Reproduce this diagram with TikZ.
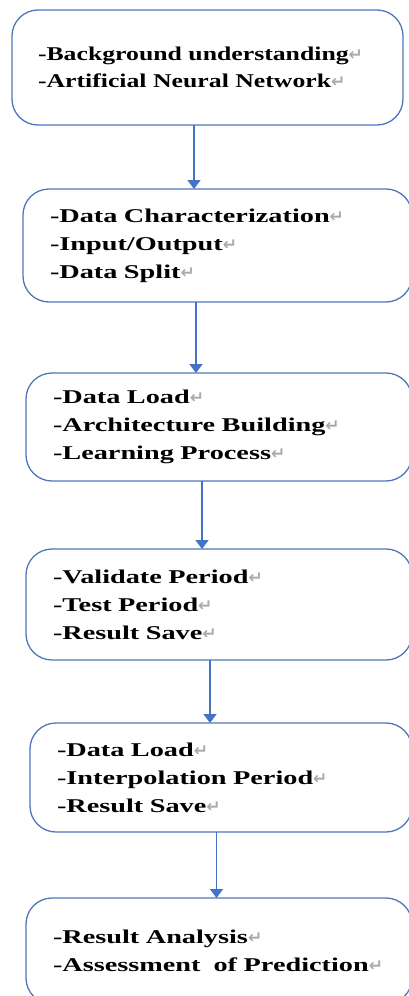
\documentclass[tikz,border=0pt]{standalone}
\usepackage{fontspec}
\setmainfont{Liberation Serif}[FakeStretch=1.45]
\newfontfamily\headfont{Liberation Serif}[FakeStretch=1.32]
\newfontfamily\markfont{DejaVu Sans}
\usetikzlibrary{positioning}
\usetikzlibrary{arrows.meta}

\definecolor{boxline}{RGB}{80,118,186}
\definecolor{flowblue}{RGB}{68,114,196}
\definecolor{markgray}{RGB}{170,170,170}
\newcommand{\pmark}{{\markfont\fontsize{17}{17}\selectfont\color{markgray}↵}}

\tikzset{
  stage/.style={draw=boxline, line width=1.3pt, rounded corners=26pt,
    anchor=north west, inner xsep=27pt, inner ysep=0pt, outer sep=0pt,
    align=left, font=\fontsize{19.5}{28}\selectfont\bfseries},
  flow/.style={draw=flowblue, line width=1.8pt,
    -{Triangle[width=13pt,length=9pt]}}
}

\begin{document}
\begin{tikzpicture}[x=1pt, y=-1pt]
  \useasboundingbox (0,0) rectangle (409,996);
  \clip (0,0) rectangle (409,996);

  \node[stage, minimum width=391, minimum height=115, text width=339pt,
    inner xsep=26pt, font=\headfont\fontsize{19.5}{27}\selectfont\bfseries]
    (background) at (12,10)
    {-Background understanding\pmark\\-Artificial Neural Network\pmark};
  \node[stage, minimum width=389, minimum height=113, text width=335pt]
    (datachar) at (23,189)
    {-Data Characterization\pmark\\-Input/Output\pmark\\-Data Split\pmark};
  \node[stage, minimum width=386, minimum height=108, text width=332pt]
    (training) at (26,373)
    {-Data Load\pmark\\-Architecture Building\pmark\\-Learning Process\pmark};
  \node[stage, minimum width=386, minimum height=111, text width=332pt]
    (testing) at (26,549)
    {-Validate Period\pmark\\-Test Period\pmark\\-Result Save\pmark};
  \node[stage, minimum width=382, minimum height=109, text width=328pt]
    (interp) at (30,723)
    {-Data Load\pmark\\-Interpolation Period\pmark\\-Result Save\pmark};
  \node[stage, minimum width=386, minimum height=106, text width=332pt]
    (analysis) at (26,898)
    {-Result Analysis\pmark\\-Assessment\ \ of Prediction\pmark};

  \draw[flow] ([xshift=-13.5pt]background.south)
    -- ([xshift=-13.5pt]background.south |- datachar.north);
  \draw[flow] ([xshift=-21.5pt]datachar.south)
    -- ([xshift=-21.5pt]datachar.south |- training.north);
  \draw[flow] ([xshift=-17pt]training.south)
    -- ([xshift=-17pt]training.south |- testing.north);
  \draw[flow] ([xshift=-9pt]testing.south)
    -- ([xshift=-9pt]testing.south |- interp.north);
  \draw[flow] ([xshift=-4.5pt]interp.south)
    -- ([xshift=-4.5pt]interp.south |- analysis.north);
\end{tikzpicture}
\end{document}
